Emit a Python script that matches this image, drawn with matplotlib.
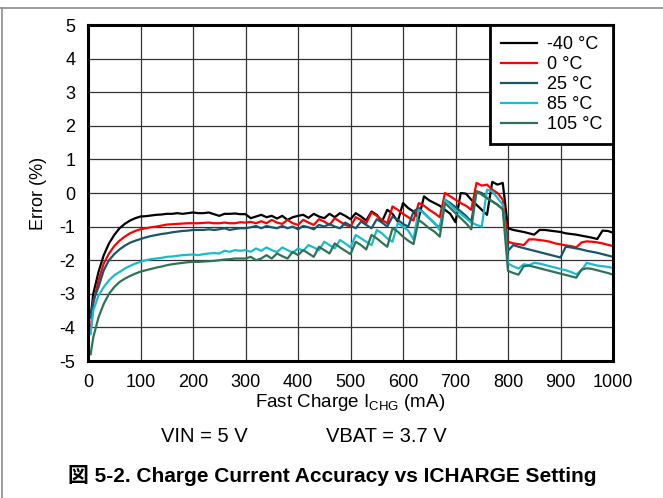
"""
Charge current accuracy vs ICHARGE setting, five temperatures.
"""

import matplotlib
matplotlib.use('Agg')
import matplotlib.pyplot as plt
from matplotlib.lines import Line2D

# Fast charge current setting (mA)
i_chg = [5] + list(range(10, 1001, 10))

err_m40 = [
    -3.7, -3.0, -2.35, -1.85, -1.5, -1.25, -1.05, -0.92, -0.82, -0.75,
    -0.7, -0.69, -0.67, -0.65, -0.64, -0.62, -0.62, -0.6, -0.62, -0.6,
    -0.58, -0.6, -0.6, -0.58, -0.63, -0.68, -0.62, -0.62, -0.61, -0.63,
    -0.63, -0.75, -0.7, -0.65, -0.72, -0.68, -0.76, -0.68, -0.8, -0.72,
    -0.68, -0.65, -0.74, -0.62, -0.7, -0.75, -0.62, -0.72, -0.6, -0.68,
    -0.78, -0.6, -0.7, -0.82, -0.55, -0.65, -0.85, -0.5, -0.62, -0.85,
    -0.3, -0.45, -0.55, -0.75, -0.1, -0.22, -0.3, -0.38, -0.5, -0.62,
    -0.87, 0.0, -0.02, -0.2, -0.35, -0.5, -0.65, 0.33, 0.25, 0.3,
    -1.05, -1.1, -1.13, -1.16, -1.2, -1.24, -1.1, -1.1, -1.12, -1.14,
    -1.16, -1.2, -1.22, -1.24, -1.27, -1.3, -1.33, -1.37, -1.12, -1.13,
    -1.18,
]
err_0 = [
    -4.1, -3.3, -2.6, -2.1, -1.8, -1.58, -1.42, -1.3, -1.2, -1.13,
    -1.08, -1.05, -1.02, -1.0, -0.97, -0.94, -0.93, -0.92, -0.91, -0.9,
    -0.9, -0.9, -0.89, -0.88, -0.9, -0.9, -0.88, -0.9, -0.9, -0.87,
    -0.88, -0.86, -0.9, -0.84, -0.9, -0.8, -0.88, -0.92, -0.8, -0.9,
    -0.95, -0.8, -0.88, -0.95, -0.78, -0.85, -0.95, -0.75, -0.85, -0.95,
    -1.0, -0.72, -0.8, -0.9, -0.58, -0.68, -0.8, -0.9, -0.4, -0.5,
    -0.62, -0.72, -0.82, -0.3, -0.38, -0.5, -0.6, -0.72, 0.0, -0.1,
    -0.2, -0.3, -0.38, -0.5, 0.3, 0.22, 0.25, 0.1, 0.0, -0.2,
    -1.45, -1.5, -1.52, -1.55, -1.38, -1.38, -1.4, -1.42, -1.45, -1.5,
    -1.53, -1.56, -1.58, -1.62, -1.47, -1.44, -1.45, -1.47, -1.5, -1.54,
    -1.58,
]
err_25 = [
    -3.7, -3.2, -2.8, -2.3, -2.0, -1.82, -1.68, -1.57, -1.48, -1.42,
    -1.37, -1.32, -1.28, -1.25, -1.22, -1.2, -1.17, -1.15, -1.13, -1.12,
    -1.1, -1.1, -1.1, -1.08, -1.1, -1.08, -1.05, -1.1, -1.07, -1.05,
    -1.05, -1.02, -0.98, -1.05, -0.98, -1.02, -1.05, -0.98, -1.05, -1.0,
    -1.08, -0.98, -1.02, -1.08, -0.95, -1.0, -0.92, -1.0, -1.05, -0.88,
    -0.97, -1.05, -0.85, -0.95, -1.05, -0.78, -0.88, -1.0, -0.7, -0.8,
    -0.92, -1.0, -0.55, -0.45, -0.6, -0.75, -0.9, -1.05, -0.2, -0.3,
    -0.42, -0.55, -0.68, -0.85, 0.05, 0.0, -0.15, -0.25, -0.35, -0.48,
    -1.72, -1.55, -1.6, -1.64, -1.68, -1.72, -1.76, -1.8, -1.84, -1.88,
    -1.92, -1.6, -1.62, -1.65, -1.68, -1.72, -1.75, -1.78, -1.82, -1.86,
    -1.9,
]
err_85 = [
    -4.2, -3.5, -3.05, -2.8, -2.6, -2.45, -2.35, -2.25, -2.17, -2.1,
    -2.05, -2.0, -1.97, -1.95, -1.93, -1.9, -1.89, -1.87, -1.85, -1.84,
    -1.83, -1.85, -1.82, -1.8, -1.79, -1.8, -1.72, -1.75, -1.7, -1.72,
    -1.7, -1.75, -1.65, -1.72, -1.62, -1.7, -1.76, -1.62, -1.7, -1.78,
    -1.65, -1.72, -1.55, -1.62, -1.7, -1.45, -1.55, -1.65, -1.4, -1.5,
    -1.62, -1.25, -1.35, -1.45, -1.55, -1.1, -1.2, -1.35, -1.45, -0.9,
    -1.0, -1.12, -1.38, -0.5, -0.6, -0.75, -0.9, -1.1, -0.2, -0.35,
    -0.5, -0.62, -0.75, -0.88, -0.95, -1.0, 0.1, 0.05, -0.15, -0.35,
    -2.1, -2.18, -2.25, -2.12, -2.15, -2.08, -2.1, -2.14, -2.18, -2.22,
    -2.26, -2.3, -2.35, -2.42, -2.3, -2.08, -2.12, -2.16, -2.18, -2.2,
    -2.23,
]
err_105 = [
    -4.8, -4.3, -3.7, -3.3, -3.0, -2.8, -2.65, -2.55, -2.47, -2.4,
    -2.34, -2.3, -2.26, -2.22, -2.19, -2.15, -2.12, -2.1, -2.08, -2.06,
    -2.05, -2.05, -2.04, -2.03, -2.02, -2.0, -1.98, -1.97, -1.95, -1.95,
    -1.95, -1.9, -2.0, -1.95, -1.85, -1.95, -1.8, -1.88, -1.95, -1.75,
    -1.85, -1.7, -1.8, -1.9, -1.6, -1.7, -1.8, -1.5, -1.62, -1.72,
    -1.82, -1.45, -1.55, -1.68, -1.25, -1.35, -1.48, -1.6, -1.05, -1.15,
    -1.3, -1.42, -1.52, -0.8, -0.92, -1.05, -1.15, -1.3, -0.3, -0.45,
    -0.6, -0.75, -0.9, -1.08, 0.05, -0.05, -0.15, -0.25, -0.35, -0.48,
    -2.32, -2.38, -2.43, -2.18, -2.16, -2.2, -2.24, -2.28, -2.32, -2.36,
    -2.4, -2.44, -2.48, -2.52, -2.28, -2.24, -2.26, -2.3, -2.34, -2.38,
    -2.43,
]

labels = ['-40 °C', '0 °C', '25 °C', '85 °C', '105 °C']
colors = ['#000000', '#ff0000', '#17566b', '#19bccf', '#2f7356']
x_ticks = [0, 100, 200, 300, 400, 500, 600, 700, 800, 900, 1000]
y_ticks = [-5, -4, -3, -2, -1, 0, 1, 2, 3, 4, 5]

plt.rcParams['font.family'] = ['Liberation Sans', 'Noto Sans CJK JP']
plt.rcParams['mathtext.fontset'] = 'custom'
plt.rcParams['mathtext.rm'] = 'Liberation Sans'
plt.rcParams['axes.unicode_minus'] = False

fig = plt.figure(figsize=(6.63, 4.98), dpi=100)
ax = fig.add_axes([88 / 663, 1 - 361 / 498, 525 / 663, 336 / 498])

series = [err_m40, err_0, err_25, err_85, err_105]
for vals, lab, col in zip(series, labels, colors):
    ax.plot(i_chg, vals, color=col, linewidth=1.6, label=lab)

ax.set_xlim(0, 1000)
ax.set_ylim(-5, 5)
ax.set_xticks(x_ticks)
ax.set_yticks(y_ticks)
ax.grid(True, color='#333333', linewidth=0.9)
ax.set_axisbelow(True)
ax.tick_params(length=0, labelsize=13)
ax.tick_params(axis='x', pad=9)
ax.tick_params(axis='y', pad=9)
for sp in ax.spines.values():
    sp.set_linewidth(2.2)
    sp.set_color('black')

ax.set_xlabel('Fast Charge I$_{\\mathregular{CHG}}$ (mA)', fontsize=13.5, labelpad=1)
ax.set_ylabel('Error (%)', fontsize=13, labelpad=9)

leg = ax.legend(loc='upper right', fontsize=13, frameon=True, fancybox=False,
                framealpha=1, edgecolor='black', borderaxespad=0,
                handlelength=2.0, handletextpad=0.55, labelspacing=0.17,
                borderpad=0.6)
leg.get_frame().set_linewidth(2.0)

fig.text(204 / 663, 1 - 436 / 498, 'VIN = 5 V', fontsize=14.5, ha='center', va='center')
fig.text(386 / 663, 1 - 436 / 498, 'VBAT = 3.7 V', fontsize=14.5, ha='center', va='center')
fig.text(332 / 663, 1 - 475 / 498, '図 5-2. Charge Current Accuracy vs ICHARGE Setting',
         fontsize=15, fontweight='bold', ha='center', va='center')

# thin page border (top and left)
fig.add_artist(Line2D([0, 1], [1 - 8 / 498, 1 - 8 / 498], color='#8c8c8c', linewidth=1.2))
fig.add_artist(Line2D([1.5 / 663, 1.5 / 663], [0, 1 - 8 / 498], color='#8c8c8c', linewidth=1.2))

fig.savefig('out.png', dpi=100)
plt.close(fig)
